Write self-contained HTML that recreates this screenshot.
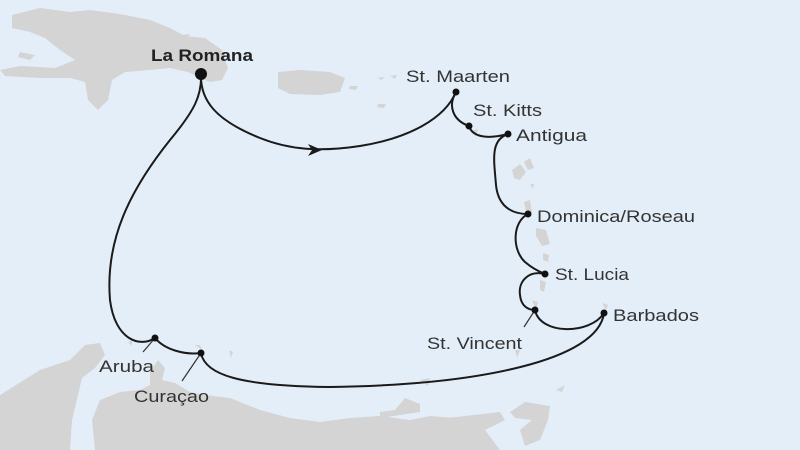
<!DOCTYPE html>
<html><head><style>
html,body{margin:0;padding:0;background:#e4eef9;}
svg{display:block}
text{font-family:"Liberation Sans",sans-serif;font-size:17px;fill:#333;}
</style></head><body>
<svg width="800" height="450" viewBox="0 0 800 450">
<rect width="800" height="450" fill="#e4eef9"/>
<g fill="#d4d4d4">
<path d="M12,15 L40,8 L70,12 L90,10 L120,14 L150,20 L170,28 L185,36 L205,38 L222,50 L228,68 L222,80 L210,82 L200,78 L188,72 L170,68 L150,70 L125,72 L112,80 L108,100 L98,110 L88,100 L85,82 L70,78 L40,78 L5,76 L0,70 L20,66 L55,68 L75,60 L60,50 L45,38 L30,32 L12,28 Z"/>
<path d="M20,52 L35,55 L30,60 L18,57Z"/>
<path d="M175,36 L190,34 L186,40Z"/>
<path d="M278,72 L300,70 L330,72 L345,78 L340,92 L320,95 L290,94 L278,88 Z"/>
<path d="M350,86 L358,86 L356,90 L349,89Z"/>
<path d="M378,104 L386,104 L384,108 L377,107Z"/>
<path d="M377,78 L384,77 L382,80Z"/><path d="M390,76 L397,75 L395,79Z"/>
<path d="M470,131 L478,129 L476,136Z"/>
<path d="M512,170 L520,164 L526,172 L520,180 L514,178Z"/>
<path d="M524,162 L530,158 L534,168 L528,170Z"/>
<path d="M530,184 L534,184 L533,189Z"/>
<path d="M524,202 L530,200 L532,212 L526,212Z"/>
<path d="M536,228 L546,230 L550,244 L542,246 L536,236Z"/>
<path d="M543,253 L549,255 L548,262 L543,260Z"/>
<path d="M540,280 L546,282 L544,292 L540,290Z"/>
<path d="M532,300 L538,302 L536,310Z"/>
<path d="M515,350 L520,350 L517,358Z"/>
<path d="M602,303 L608,305 L606,310Z"/>
<path d="M556,390 L565,385 L562,392Z"/>
<path d="M128,342 L132,340 L132,346Z"/>
<path d="M195,345 L200,345 L202,350Z"/>
<path d="M229,350 L233,352 L231,358Z"/>
<path d="M0,395 L40,370 L70,360 L85,345 L100,343 L105,355 L95,368 L82,378 L78,395 L72,420 L70,450 L0,450Z"/>
<path d="M150,372 L158,360 L165,368 L162,380 L175,383 L190,392 L205,395 L230,398 L260,410 L290,418 L320,422 L350,418 L380,416 L410,420 L430,416 L455,418 L470,424 L478,438 L485,450 L95,450 L92,420 L100,400 L120,392 L140,390 L150,385Z"/>
<path d="M380,418 L420,412 L420,404 L405,398 L395,410 L380,412Z"/>
<path d="M400,460 L430,420 L500,412 L505,420 L485,430 L500,450Z"/>
<path d="M510,412 L525,402 L550,406 L548,420 L540,440 L525,446 L520,430 L532,420 L515,418Z"/>
<path d="M420,380 L430,378 L428,386Z"/>
</g>
<g fill="none" stroke="#1a1a1a" stroke-width="2">
<path d="M201,74 C200,100 215,120 260,138 C290,150 320,152 360,146 C410,138 445,118 456,92"/>
<path d="M456,92 C448,105 452,120 469,126 C472,136 485,140 508,134"/>
<path d="M508,134 C490,140 494,160 496,185 C498,205 510,214 528,214"/>
<path d="M528,214 C512,222 512,250 525,262 C532,268 540,272 545,274"/>
<path d="M545,274 C528,270 518,282 520,295 C521,306 528,310 535,310"/>
<path d="M535,310 C540,335 590,335 604,313"/>
<path d="M604,313 C598,360 480,385 330,387 C240,386 205,375 201,353"/>
<path d="M201,353 C185,355 165,350 155,338"/>
<path d="M155,338 C140,348 115,340 110,300 C105,240 130,190 170,140 C195,110 202,95 201,74"/>
</g>
<g stroke="#333" stroke-width="1.2">
<line x1="155" y1="338" x2="143" y2="352"/>
<line x1="201" y1="353" x2="182" y2="381"/>
<line x1="535" y1="310" x2="524" y2="327"/>
</g>
<path d="M308,144 L322,150 L308,156 L312,150Z" fill="#1a1a1a"/>
<g fill="#111">
<circle cx="201" cy="74" r="6"/>
<circle cx="456" cy="92" r="3.5"/>
<circle cx="469" cy="126" r="3.5"/>
<circle cx="508" cy="134" r="3.5"/>
<circle cx="528" cy="214" r="3.5"/>
<circle cx="545" cy="274" r="3.5"/>
<circle cx="535" cy="310" r="3.5"/>
<circle cx="604" cy="313" r="3.5"/>
<circle cx="201" cy="353" r="3.5"/>
<circle cx="155" cy="338" r="3.5"/>
</g>
<text x="151" y="61" textLength="102" lengthAdjust="spacingAndGlyphs" style="font-weight:bold;fill:#222">La Romana</text>
<text x="406" y="82" textLength="104" lengthAdjust="spacingAndGlyphs">St. Maarten</text>
<text x="473" y="116" textLength="69" lengthAdjust="spacingAndGlyphs">St. Kitts</text>
<text x="516" y="141" textLength="71" lengthAdjust="spacingAndGlyphs">Antigua</text>
<text x="537" y="222" textLength="158" lengthAdjust="spacingAndGlyphs">Dominica/Roseau</text>
<text x="555" y="280" textLength="74" lengthAdjust="spacingAndGlyphs">St. Lucia</text>
<text x="613" y="321" textLength="86" lengthAdjust="spacingAndGlyphs">Barbados</text>
<text x="427" y="349" textLength="95" lengthAdjust="spacingAndGlyphs">St. Vincent</text>
<text x="99" y="372" textLength="55" lengthAdjust="spacingAndGlyphs">Aruba</text>
<text x="134" y="402" textLength="75" lengthAdjust="spacingAndGlyphs">Curaçao</text>
</svg>
</body></html>
